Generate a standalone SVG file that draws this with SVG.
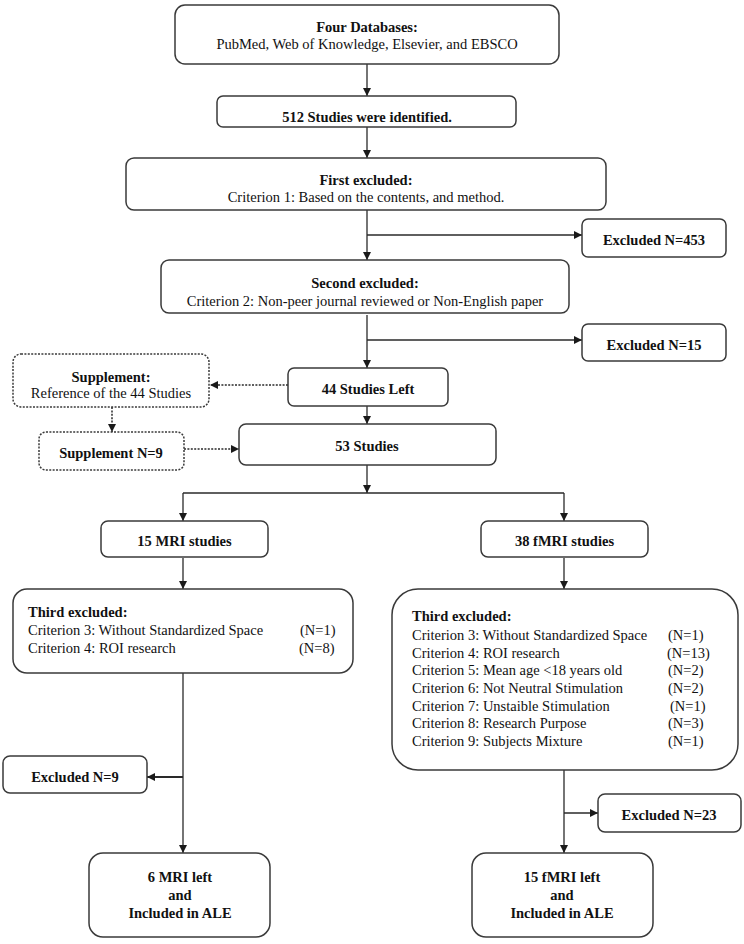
<svg xmlns="http://www.w3.org/2000/svg" width="744" height="944" viewBox="0 0 744 944">
<defs>
<marker id="ah" viewBox="0 0 8 8" refX="8" refY="4" markerWidth="8" markerHeight="8" markerUnits="userSpaceOnUse" orient="auto"><path d="M0,0 L8,4 L0,8 z" fill="#1a1a1a"/></marker>
</defs>
<style>
rect{fill:#fff;stroke:#3a3a3a;stroke-width:1.5}
rect.dot{stroke-dasharray:2 1.4}
text{font-family:"Liberation Serif","Times New Roman",serif;font-size:14.5px;fill:#111}
.b{font-weight:bold}
.c{text-anchor:middle}
.ln{fill:none;stroke:#2a2a2a;stroke-width:1.3}
.dl{fill:none;stroke:#2a2a2a;stroke-width:1.5;stroke-dasharray:2 1.4}
</style>
<rect width="744" height="944" style="fill:#fff;stroke:none"/>
<g id="connectors">
<path class="ln" d="M367,64 V96" marker-end="url(#ah)"/>
<path class="ln" d="M367,127 V158" marker-end="url(#ah)"/>
<path class="ln" d="M367,210 V260" marker-end="url(#ah)"/>
<path class="ln" d="M367,235 H582" marker-end="url(#ah)"/>
<path class="ln" d="M367,315 V368" marker-end="url(#ah)"/>
<path class="ln" d="M367,340 H582" marker-end="url(#ah)"/>
<path class="dl" d="M288,385 H210" marker-end="url(#ah)"/>
<path class="dl" d="M112,407 V432" marker-end="url(#ah)"/>
<path class="dl" d="M184,449 H239" marker-end="url(#ah)"/>
<path class="ln" d="M367,406 V424" marker-end="url(#ah)"/>
<path class="ln" d="M367,465 V493" marker-end="url(#ah)"/>
<path class="ln" d="M183,493 H564"/>
<path class="ln" d="M183,493 V521" marker-end="url(#ah)"/>
<path class="ln" d="M564,493 V521" marker-end="url(#ah)"/>
<path class="ln" d="M183,558 V589" marker-end="url(#ah)"/>
<path class="ln" d="M564,558 V589" marker-end="url(#ah)"/>
<path class="ln" d="M183,673 V853" marker-end="url(#ah)"/>
<path class="ln" d="M183,777 H147" style="stroke-width:2.2" marker-end="url(#ah)"/>
<path class="ln" d="M564,770 V853" marker-end="url(#ah)"/>
<path class="ln" d="M564,813 H598" marker-end="url(#ah)"/>
</g>
<g id="databases">
<rect x="175" y="5" width="384" height="59" rx="10"/>
<text class="b c" x="367" y="32">Four Databases:</text>
<text class="c" x="367" y="49">PubMed, Web of Knowledge, Elsevier, and EBSCO</text>
</g>
<g id="identified">
<rect x="217" y="96" width="299" height="31" rx="6"/>
<text class="b c" x="367" y="122">512 Studies were identified.</text>
</g>
<g id="first-excluded">
<rect x="126" y="158" width="480" height="52" rx="8"/>
<text class="b c" x="366" y="185">First excluded:</text>
<text class="c" x="366" y="202">Criterion 1: Based on the contents, and method.</text>
</g>
<g id="excluded-453">
<rect x="582" y="219" width="144" height="38" rx="6"/>
<text class="b c" x="654" y="245">Excluded N=453</text>
</g>
<g id="second-excluded">
<rect x="161" y="260" width="408" height="53" rx="8"/>
<text class="b c" x="365" y="288">Second excluded:</text>
<text class="c" x="365" y="306">Criterion 2: Non-peer journal reviewed or Non-English paper</text>
</g>
<g id="excluded-15">
<rect x="582" y="324" width="144" height="37" rx="6"/>
<text class="b c" x="654" y="350">Excluded N=15</text>
</g>
<g id="studies-left-44">
<rect x="288" y="368" width="160" height="38" rx="6"/>
<text class="b c" x="368" y="394">44 Studies Left</text>
</g>
<g id="supplement">
<rect class="dot" x="13" y="354" width="196" height="53" rx="8"/>
<text class="b c" x="111" y="382">Supplement:</text>
<text class="c" x="111" y="398">Reference of the 44 Studies</text>
</g>
<g id="supplement-9">
<rect class="dot" x="39" y="432" width="145" height="38" rx="7"/>
<text class="b c" x="111" y="458">Supplement N=9</text>
</g>
<g id="studies-53">
<rect x="239" y="424" width="257" height="41" rx="7"/>
<text class="b c" x="367" y="451">53 Studies</text>
</g>
<g id="mri-15">
<rect x="101" y="521" width="167" height="36" rx="7"/>
<text class="b c" x="184.5" y="546">15 MRI studies</text>
</g>
<g id="fmri-38">
<rect x="481" y="521" width="167" height="36" rx="7"/>
<text class="b c" x="564.5" y="546">38 fMRI studies</text>
</g>
<g id="mri-third-excluded">
<rect x="13" y="589" width="340" height="84" rx="14"/>
<text class="b" x="28" y="617">Third excluded:</text>
<text x="28" y="635">Criterion 3: Without Standardized Space</text>
<text x="300" y="635">(N=1)</text>
<text x="28" y="653">Criterion 4: ROI research</text>
<text x="299" y="653">(N=8)</text>
</g>
<g id="fmri-third-excluded">
<rect x="392" y="589" width="346" height="181" rx="26"/>
<text class="b" x="412" y="621">Third excluded:</text>
<text x="412" y="640">Criterion 3: Without Standardized Space</text>
<text x="668" y="640">(N=1)</text>
<text x="412" y="658">Criterion 4: ROI research</text>
<text x="667" y="658">(N=13)</text>
<text x="412" y="675">Criterion 5: Mean age &lt;18 years old</text>
<text x="668" y="675">(N=2)</text>
<text x="412" y="693">Criterion 6: Not Neutral Stimulation</text>
<text x="668" y="693">(N=2)</text>
<text x="412" y="711">Criterion 7: Unstaible Stimulation</text>
<text x="670" y="711">(N=1)</text>
<text x="412" y="728">Criterion 8: Research Purpose</text>
<text x="668" y="728">(N=3)</text>
<text x="412" y="746">Criterion 9: Subjects Mixture</text>
<text x="668" y="746">(N=1)</text>
</g>
<g id="excluded-9">
<rect x="3" y="756" width="144" height="37" rx="7"/>
<text class="b c" x="75" y="782">Excluded N=9</text>
</g>
<g id="excluded-23">
<rect x="598" y="794" width="143" height="38" rx="7"/>
<text class="b c" x="669" y="820">Excluded N=23</text>
</g>
<g id="mri-left-6">
<rect x="89" y="853" width="181" height="84" rx="14"/>
<text class="b c" x="180" y="882">6 MRI left</text>
<text class="b c" x="180" y="900">and</text>
<text class="b c" x="180" y="918">Included in ALE</text>
</g>
<g id="fmri-left-15">
<rect x="472" y="853" width="181" height="84" rx="14"/>
<text class="b c" x="562" y="882">15 fMRI left</text>
<text class="b c" x="562" y="900">and</text>
<text class="b c" x="562" y="918">Included in ALE</text>
</g>
</svg>
